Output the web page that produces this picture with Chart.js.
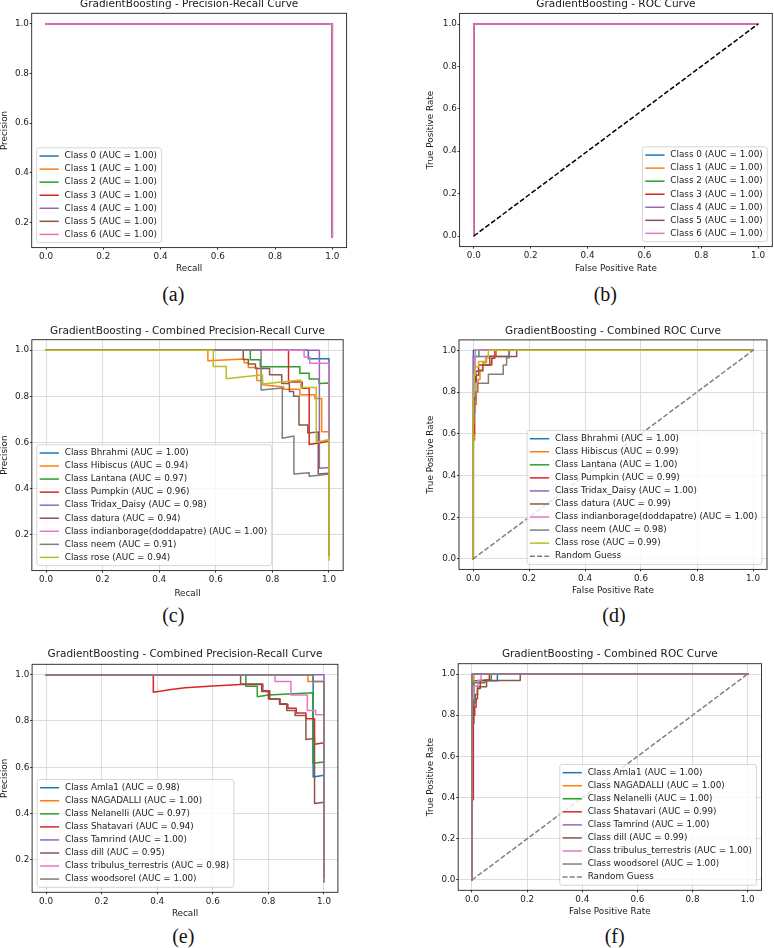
<!DOCTYPE html>
<html>
<head>
<meta charset="utf-8">
<script src="https://cdn.jsdelivr.net/npm/chart.js@4.4.1/dist/chart.umd.min.js"></script>
<style>
  html, body { margin: 0; padding: 0; background: #fff; }
  #pagina { position: relative; width: 774px; height: 948px; overflow: hidden; background: #fff; }
  #pagina canvas { position: absolute; }
  .legenda-fig { position: absolute; font-family: "Liberation Serif", "Times New Roman", serif; font-size: 20px; line-height: 1; color: #111; transform: translateX(-50%); white-space: nowrap; }
</style>
</head>
<body>
<div id="pagina"></div>
<script>
// cores padrão do matplotlib (tab10)
const cores = ['#1f77b4', '#ff7f0e', '#2ca02c', '#d62728', '#9467bd', '#8c564b', '#e377c2', '#7f7f7f', '#bcbd22'];

const ticksUnit = [0, 0.2, 0.4, 0.6, 0.8, 1.0];
const ticksPrec = [0.2, 0.4, 0.6, 0.8, 1.0];

// ---- (a) e (b): 7 classes, todas iguais ----
const classesAB = ['Class 0', 'Class 1', 'Class 2', 'Class 3', 'Class 4', 'Class 5', 'Class 6'];
const aucA = [1.00, 1.00, 1.00, 1.00, 1.00, 1.00, 1.00];
const aucB = [1.00, 1.00, 1.00, 1.00, 1.00, 1.00, 1.00];
const prA_recall = [0, 1, 1];
const prA_precision = [1, 1, 0.141];
const rocB_fpr = [0, 0, 1];
const rocB_tpr = [0, 1, 1];
const diagX = [0, 1];
const diagY = [0, 1];

// ---- (c) e (d) ----
const plantasC = ['Bhrahmi', 'Hibiscus', 'Lantana', 'Pumpkin', 'Tridax_Daisy', 'datura', 'indianborage(doddapatre)', 'neem', 'rose'];
const aucC = [1.00, 0.94, 0.97, 0.96, 0.98, 0.94, 1.00, 0.91, 0.94];
const aucD = [1.00, 0.99, 1.00, 0.99, 1.00, 0.99, 1.00, 0.98, 0.99];

// pares [recall, precision]
const prC_Bhrahmi = [[0,1],[0.927,1],[0.927,0.963],[1,0.963],[1,0.11]];
const prC_Hibiscus = [[0,1],[0.572,1],[0.572,0.954],[0.70,0.962],[0.70,0.945],[0.715,0.945],[0.715,0.925],[0.745,0.925],[0.745,0.868],[0.765,0.868],[0.765,0.85],[0.84,0.84],[0.84,0.83],[0.897,0.83],[0.897,0.806],[0.95,0.806],[0.95,0.79],[0.974,0.79],[0.974,0.646],[1,0.646],[1,0.11]];
const prC_Lantana = [[0,1],[0.722,1],[0.722,0.958],[0.757,0.958],[0.757,0.928],[0.897,0.928],[0.897,0.9],[0.93,0.9],[0.93,0.875],[0.965,0.875],[0.965,0.855],[1,0.858],[1,0.11]];
const prC_Pumpkin = [[0,1],[0.857,1],[0.857,0.862],[0.905,0.862],[0.905,0.835],[0.93,0.835],[0.93,0.59],[0.965,0.597],[1,0.605],[1,0.11]];
const prC_Tridax = [[0,1],[0.966,1],[0.966,0.487],[1,0.49],[1,0.11]];
const prC_datura = [[0,1],[0.697,1],[0.697,0.96],[0.715,0.96],[0.715,0.94],[0.74,0.94],[0.74,0.92],[0.79,0.92],[0.79,0.893],[0.833,0.893],[0.833,0.855],[0.86,0.855],[0.86,0.82],[0.875,0.82],[0.875,0.80],[0.894,0.80],[0.894,0.675],[0.925,0.675],[0.925,0.64],[0.962,0.645],[0.962,0.462],[1,0.465],[1,0.11]];
const prC_indianborage = [[0,1],[0.912,1],[0.912,0.97],[0.932,0.97],[0.932,0.943],[1,0.943],[1,0.11]];
const prC_neem = [[0,1],[0.76,1],[0.76,0.827],[0.835,0.836],[0.835,0.617],[0.876,0.627],[0.876,0.462],[0.93,0.468],[0.93,0.452],[0.965,0.457],[1,0.462],[1,0.11]];
const prC_rose = [[0,1],[0.591,1],[0.591,0.929],[0.637,0.929],[0.637,0.876],[0.765,0.893],[0.765,0.853],[0.9,0.87],[0.9,0.838],[0.955,0.838],[0.955,0.6],[1,0.612],[1,0.088]];
const curvasC = [prC_Bhrahmi, prC_Hibiscus, prC_Lantana, prC_Pumpkin, prC_Tridax, prC_datura, prC_indianborage, prC_neem, prC_rose];

// pares [fpr, tpr]
const rocD_Bhrahmi = [[0,0],[0,0.96],[0.002,0.96],[0.002,1],[1,1]];
const rocD_Hibiscus = [[0,0],[0,0.57],[0.006,0.57],[0.006,0.74],[0.012,0.74],[0.012,0.8],[0.018,0.8],[0.018,0.86],[0.025,0.86],[0.025,0.9],[0.035,0.9],[0.035,0.94],[0.048,0.94],[0.048,0.972],[0.083,0.972],[0.083,1],[1,1]];
const rocD_Lantana = [[0,0],[0,0.75],[0.004,0.75],[0.004,0.9],[0.008,0.9],[0.008,0.97],[0.021,0.97],[0.021,1],[1,1]];
const rocD_Pumpkin = [[0,0],[0,0.6],[0.005,0.6],[0.005,0.85],[0.01,0.85],[0.01,0.9],[0.02,0.9],[0.02,0.93],[0.067,0.93],[0.067,0.962],[0.078,0.962],[0.078,1],[1,1]];
const rocD_Tridax = [[0,0],[0,0.9],[0.002,0.9],[0.002,0.97],[0.128,0.97],[0.128,1],[1,1]];
const rocD_datura = [[0,0],[0,0.7],[0.006,0.7],[0.006,0.85],[0.012,0.85],[0.012,0.88],[0.02,0.88],[0.02,0.905],[0.035,0.905],[0.035,0.93],[0.06,0.93],[0.06,0.97],[0.156,0.97],[0.156,1],[1,1]];
const rocD_indianborage = [[0,0],[0,0.81],[0.004,0.81],[0.004,0.9],[0.008,0.9],[0.008,1],[1,1]];
const rocD_neem = [[0,0],[0,0.65],[0.004,0.65],[0.004,0.76],[0.01,0.76],[0.01,0.8],[0.015,0.8],[0.015,0.842],[0.055,0.842],[0.055,0.885],[0.108,0.885],[0.108,0.93],[0.12,0.93],[0.12,0.965],[0.13,0.965],[0.13,1],[1,1]];
const rocD_rose = [[0,0],[0,0.78],[0.004,0.78],[0.004,0.88],[0.008,0.88],[0.008,0.92],[0.02,0.92],[0.02,0.946],[0.045,0.946],[0.045,0.962],[0.055,0.962],[0.055,1],[1,1]];
const curvasD = [rocD_Bhrahmi, rocD_Hibiscus, rocD_Lantana, rocD_Pumpkin, rocD_Tridax, rocD_datura, rocD_indianborage, rocD_neem, rocD_rose];

// ---- (e) e (f) ----
const plantasE = ['Amla1', 'NAGADALLI', 'Nelanelli', 'Shatavari', 'Tamrind', 'dill', 'tribulus_terrestris', 'woodsorel'];
const aucE = [0.98, 1.00, 0.97, 0.94, 1.00, 0.95, 0.98, 1.00];
const aucF = [1.00, 1.00, 1.00, 0.99, 1.00, 0.99, 1.00, 1.00];

const prE_Amla1 = [[0,1],[0.961,1],[0.961,0.558],[1,0.566],[1,0.11]];
const prE_NAGADALLI = [[0,1],[0.942,1],[0.942,0.971],[1,0.971],[1,0.11]];
const prE_Nelanelli = [[0,1],[0.719,1],[0.719,0.95],[0.76,0.95],[0.76,0.905],[0.8,0.912],[0.96,0.922],[0.96,0.618],[1,0.623],[1,0.105]];
const prE_Shatavari = [[0,1],[0.386,1],[0.386,0.924],[0.45,0.936],[0.5,0.943],[0.6,0.951],[0.7,0.957],[0.776,0.957],[0.776,0.927],[0.8,0.927],[0.8,0.895],[0.84,0.895],[0.84,0.872],[0.87,0.872],[0.87,0.855],[0.9,0.855],[0.9,0.835],[0.935,0.835],[0.935,0.81],[0.966,0.81],[0.966,0.70],[1,0.706],[1,0.11]];
const prE_Tamrind = [[0,1],[1,1],[1,0.11]];
const prE_dill = [[0,1],[0.70,1],[0.70,0.96],[0.78,0.96],[0.78,0.93],[0.805,0.93],[0.805,0.895],[0.842,0.895],[0.842,0.874],[0.866,0.874],[0.866,0.845],[0.896,0.845],[0.896,0.824],[0.935,0.824],[0.935,0.72],[0.966,0.724],[0.966,0.444],[1,0.449],[1,0.11]];
const prE_tribulus = [[0,1],[0.824,1],[0.824,0.97],[0.881,0.97],[0.881,0.912],[0.94,0.912],[0.94,0.845],[0.97,0.845],[0.97,0.827],[1,0.827],[1,0.11]];
const prE_woodsorel = [[0,1],[0.96,1],[0.96,0.971],[1,0.971],[1,0.125]];
const curvasE = [prE_Amla1, prE_NAGADALLI, prE_Nelanelli, prE_Shatavari, prE_Tamrind, prE_dill, prE_tribulus, prE_woodsorel];

const rocF_Amla1 = [[0,0],[0,0.8],[0.005,0.8],[0.005,0.967],[0.092,0.967],[0.092,1],[1,1]];
const rocF_NAGADALLI = [[0,0],[0,0.955],[0.007,0.955],[0.007,1],[1,1]];
const rocF_Nelanelli = [[0,0],[0,0.76],[0.007,0.76],[0.007,0.958],[0.047,0.958],[0.047,0.971],[0.07,0.971],[0.07,1],[1,1]];
const rocF_Shatavari = [[0,0],[0,0.39],[0.005,0.39],[0.005,0.8],[0.01,0.8],[0.01,0.84],[0.015,0.84],[0.015,0.88],[0.02,0.88],[0.02,0.93],[0.03,0.93],[0.03,0.97],[0.063,0.97],[0.063,1],[1,1]];
const rocF_Tamrind = [[0,0],[0,1],[1,1]];
const rocF_dill = [[0,0],[0,0.8],[0.006,0.8],[0.006,0.86],[0.012,0.86],[0.012,0.9],[0.02,0.9],[0.02,0.938],[0.053,0.938],[0.053,0.968],[0.175,0.968],[0.175,1],[1,1]];
const rocF_tribulus = [[0,0],[0,0.88],[0.005,0.88],[0.005,0.94],[0.022,0.94],[0.022,0.97],[0.033,0.97],[0.033,1],[1,1]];
const rocF_woodsorel = [[0,0],[0,1],[1,1]];
const curvasF = [rocF_Amla1, rocF_NAGADALLI, rocF_Nelanelli, rocF_Shatavari, rocF_Tamrind, rocF_dill, rocF_tribulus, rocF_woodsorel];

// ---- aparência ----
const fonte = 'DejaVu Sans';
const corTexto = '#1a1a1a';
const larguraLinha = 1.5;
const tracejado = [5, 2.2];

const pagina = document.getElementById('pagina');

// legenda dentro da área do gráfico + moldura dos eixos (estilo matplotlib)
const legendaInterna = {
  id: 'legendaInterna',
  afterDatasetsDraw(chart, args, opts) {
    const { ctx, chartArea: a } = chart;
    ctx.save();
    ctx.strokeStyle = '#222';
    ctx.lineWidth = 0.9;
    ctx.strokeRect(a.left, a.top, a.right - a.left, a.bottom - a.top);

    const itens = chart.data.datasets.filter(d => d.label);
    ctx.font = '8.8px "' + fonte + '"';
    const largTexto = Math.max(...itens.map(d => ctx.measureText(d.label).width));
    const passo = 13.05, padX = 2.8, alca = 19.3, gap = 5.8, padDir = 4.6;
    const w = padX + alca + gap + largTexto + padDir;
    const h = itens.length * passo + 3.4;
    const x0 = opts.pos === 'lr' ? a.right - 5 - w : a.left + 5;
    const y0 = a.bottom - 5 - h;

    ctx.beginPath();
    ctx.roundRect(x0, y0, w, h, 2.5);
    ctx.fillStyle = 'rgba(255,255,255,0.8)';
    ctx.fill();
    ctx.strokeStyle = '#cccccc';
    ctx.lineWidth = 0.8;
    ctx.stroke();

    itens.forEach((d, i) => {
      const yc = y0 + 1.7 + passo * (i + 0.5);
      ctx.beginPath();
      ctx.setLineDash(d.borderDash || []);
      ctx.strokeStyle = d.borderColor;
      ctx.lineWidth = d.borderWidth;
      ctx.moveTo(x0 + padX, yc);
      ctx.lineTo(x0 + padX + alca, yc);
      ctx.stroke();
      ctx.setLineDash([]);
      ctx.fillStyle = corTexto;
      ctx.textBaseline = 'middle';
      ctx.textAlign = 'left';
      ctx.fillText(d.label, x0 + padX + alca + gap, yc);
    });
    ctx.restore();
  }
};

function serie(label, pontos, cor, extra) {
  return Object.assign({
    label: label,
    data: pontos.map(p => ({ x: p[0], y: p[1] })),
    borderColor: cor,
    backgroundColor: cor,
    borderWidth: larguraLinha,
    pointRadius: 0,
    tension: 0,
    fill: false,
    borderJoinStyle: 'round',
    borderCapStyle: 'square'
  }, extra || {});
}

function limites(datasets, eixo) {
  const vals = datasets.flatMap(d => d.data.map(p => p[eixo]));
  const lo = Math.min(...vals), hi = Math.max(...vals);
  const m = (hi - lo) * 0.05;
  return [lo - m, hi + m];
}

function criarPainel(p, datasets) {
  const cx = Math.round(p.area[0] - 40);
  const cy = Math.round(p.tituloY - 8);
  const cw = Math.round(p.area[2] - cx + 4);
  const ch = Math.round(p.eixoXTituloY - cy + 8);
  const L = p.area[0] - cx, T = p.area[1] - cy, R = p.area[2] - cx, B = p.area[3] - cy;

  const canvas = document.createElement('canvas');
  canvas.width = cw;
  canvas.height = ch;
  canvas.style.left = cx + 'px';
  canvas.style.top = cy + 'px';
  canvas.style.width = cw + 'px';
  canvas.style.height = ch + 'px';
  pagina.appendChild(canvas);

  const cap = document.createElement('div');
  cap.className = 'legenda-fig';
  cap.textContent = p.rotulo;
  cap.style.left = p.rotuloPos[0] + 'px';
  cap.style.top = (p.rotuloPos[1] - 12) + 'px';
  pagina.appendChild(cap);

  const lhTitulo = 10.5 * 1.2, lhTexto = 8.8 * 1.2;
  const padTitulo = p.tituloY - cy - lhTitulo / 2;

  // o último dataset fica por cima, como no matplotlib
  datasets.forEach((d, i) => { d.order = datasets.length - i; });

  const [xMin, xMax] = limites(datasets, 'x');
  const [yMin, yMax] = limites(datasets, 'y');

  const grade = {
    display: true,
    drawOnChartArea: p.grade,
    drawTicks: true,
    tickLength: 2,
    tickWidth: 0.9,
    tickColor: '#222',
    color: '#d9d9d9',
    lineWidth: 0.9
  };

  new Chart(canvas, {
    type: 'line',
    data: { datasets: datasets },
    options: {
      responsive: false,
      animation: false,
      devicePixelRatio: 1,
      layout: { padding: { left: 0, top: 0, bottom: 0, right: cw - R } },
      plugins: {
        legend: { display: false },
        tooltip: { enabled: false },
        title: {
          display: true,
          text: p.titulo,
          fullSize: false,
          color: corTexto,
          font: { family: fonte, size: 10.5, weight: 'normal', lineHeight: 1.2 },
          padding: { top: padTitulo, bottom: T - lhTitulo - padTitulo }
        },
        legendaInterna: { pos: p.legenda }
      },
      scales: {
        x: {
          type: 'linear',
          min: xMin,
          max: xMax,
          afterBuildTicks: s => { s.ticks = p.ticksX.map(v => ({ value: v })); },
          afterFit: s => { s.height = ch - B; },
          grid: grade,
          border: { display: false },
          ticks: { color: corTexto, font: { family: fonte, size: 8.8 }, padding: 1.8, maxRotation: 0, callback: v => v.toFixed(1) },
          title: {
            display: true, text: p.eixoX, color: corTexto,
            font: { family: fonte, size: 8.8, lineHeight: 1.2 },
            padding: { top: 0, bottom: ch - (p.eixoXTituloY - cy) - lhTexto / 2 }
          }
        },
        y: {
          type: 'linear',
          min: yMin,
          max: yMax,
          afterBuildTicks: s => { s.ticks = p.ticksY.map(v => ({ value: v })); },
          afterFit: s => { s.width = L; },
          grid: grade,
          border: { display: false },
          ticks: { color: corTexto, font: { family: fonte, size: 8.8 }, padding: 0.8, callback: v => v.toFixed(1) },
          title: {
            display: true, text: p.eixoY, color: corTexto,
            font: { family: fonte, size: 8.8, lineHeight: 1.2 },
            padding: { top: p.eixoYTituloX - cx - lhTexto / 2, bottom: 0 }
          }
        }
      }
    },
    plugins: [legendaInterna]
  });
}

// ---- montagem dos datasets ----
const rotuloAuc = (nome, auc) => nome + ' (AUC = ' + auc.toFixed(2) + ')';
const pares = (xs, ys) => xs.map((x, i) => [x, ys[i]]);

const dadosA = classesAB.map((c, i) => serie(rotuloAuc(c, aucA[i]), pares(prA_recall, prA_precision), cores[i]));
const dadosB = classesAB.map((c, i) => serie(rotuloAuc(c, aucB[i]), pares(rocB_fpr, rocB_tpr), cores[i]));
dadosB.push(serie('', pares(diagX, diagY), '#000000', { borderDash: tracejado, borderCapStyle: 'butt' }));

const dadosC = plantasC.map((c, i) => serie(rotuloAuc('Class ' + c, aucC[i]), curvasC[i], cores[i]));
const dadosD = plantasC.map((c, i) => serie(rotuloAuc('Class ' + c, aucD[i]), curvasD[i], cores[i]));
dadosD.push(serie('Random Guess', pares(diagX, diagY), '#808080', { borderDash: tracejado, borderCapStyle: 'butt' }));

const dadosE = plantasE.map((c, i) => serie(rotuloAuc('Class ' + c, aucE[i]), curvasE[i], cores[i]));
const dadosF = plantasE.map((c, i) => serie(rotuloAuc('Class ' + c, aucF[i]), curvasF[i], cores[i]));
dadosF.push(serie('Random Guess', pares(diagX, diagY), '#808080', { borderDash: tracejado, borderCapStyle: 'butt' }));

criarPainel({ area: [31.7, 13.3, 346.6, 247.6], tituloY: 4.7, eixoXTituloY: 268.3, eixoYTituloX: 5, legenda: 'll', grade: false,
  titulo: 'GradientBoosting - Precision-Recall Curve', eixoX: 'Recall', eixoY: 'Precision', ticksX: ticksUnit, ticksY: ticksPrec,
  rotulo: '(a)', rotuloPos: [173.3, 296] }, dadosA);
criarPainel({ area: [459.6, 13.4, 772.3, 246.6], tituloY: 4.7, eixoXTituloY: 268.3, eixoYTituloX: 430.3, legenda: 'lr', grade: false,
  titulo: 'GradientBoosting - ROC Curve', eixoX: 'False Positive Rate', eixoY: 'True Positive Rate', ticksX: ticksUnit, ticksY: ticksUnit,
  rotulo: '(b)', rotuloPos: [605.3, 296] }, dadosB);
criarPainel({ area: [31.85, 339.7, 343.15, 570.6], tituloY: 331, eixoXTituloY: 593.3, eixoYTituloX: 5, legenda: 'll', grade: true,
  titulo: 'GradientBoosting - Combined Precision-Recall Curve', eixoX: 'Recall', eixoY: 'Precision', ticksX: ticksUnit, ticksY: ticksPrec,
  rotulo: '(c)', rotuloPos: [173.3, 617] }, dadosC);
criarPainel({ area: [459, 339.9, 767, 569.4], tituloY: 331, eixoXTituloY: 591, eixoYTituloX: 430.3, legenda: 'lr', grade: true,
  titulo: 'GradientBoosting - Combined ROC Curve', eixoX: 'False Positive Rate', eixoY: 'True Positive Rate', ticksX: ticksUnit, ticksY: ticksUnit,
  rotulo: '(d)', rotuloPos: [614, 617] }, dadosD);
criarPainel({ area: [32.1, 664.3, 337.9, 892.3], tituloY: 654.3, eixoXTituloY: 913.3, eixoYTituloX: 5, legenda: 'll', grade: true,
  titulo: 'GradientBoosting - Combined Precision-Recall Curve', eixoX: 'Recall', eixoY: 'Precision', ticksX: ticksUnit, ticksY: ticksPrec,
  rotulo: '(e)', rotuloPos: [183.3, 938.3] }, dadosE);
criarPainel({ area: [458.2, 663.7, 761.5, 890.3], tituloY: 654.3, eixoXTituloY: 911.7, eixoYTituloX: 430.3, legenda: 'lr', grade: true,
  titulo: 'GradientBoosting - Combined ROC Curve', eixoX: 'False Positive Rate', eixoY: 'True Positive Rate', ticksX: ticksUnit, ticksY: ticksUnit,
  rotulo: '(f)', rotuloPos: [614.7, 938.3] }, dadosF);
</script>
</body>
</html>
